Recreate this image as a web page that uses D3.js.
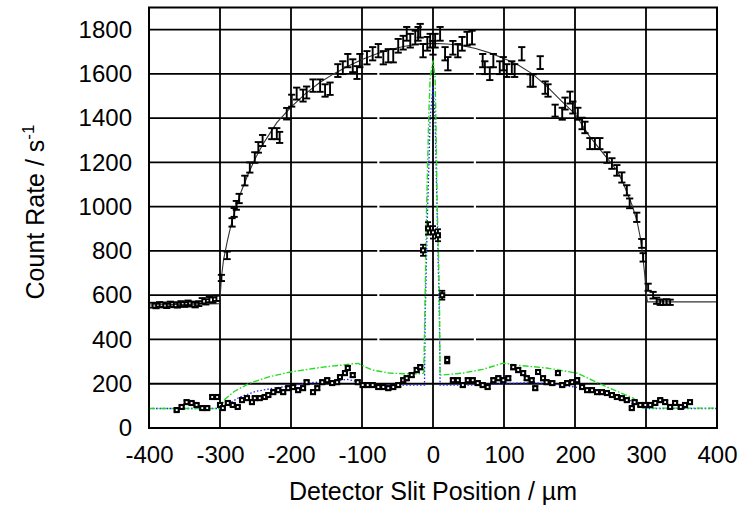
<!DOCTYPE html>
<html>
<head>
<meta charset="utf-8">
<script src="https://cdn.jsdelivr.net/npm/d3@7"></script>
<style>
  html, body { margin: 0; padding: 0; background: #fff; }
  svg text { font-family: "Liberation Sans", Arial, Helvetica, sans-serif; fill: #000; }
</style>
</head>
<body>
<svg id="chart" width="744" height="506"></svg>
<script>
// Detector slit scan: count rate vs. slit position

const xTicks = [-400, -300, -200, -100, 0, 100, 200, 300, 400];
const yTicks = [0, 200, 400, 600, 800, 1000, 1200, 1400, 1600, 1800];

// Direct beam scan (upper data, with error bars)
const upperX = [-395,-390,-385,-380,-375,-370,-365,-360,-355,-350,-345,-340,-335,-330,-325,-320,-315,-310,-305,
  -298,-290,-283,-280,-277,-273,-265,-258,-251,-246,-240,-227,-220,-216,-206,-199,-192,-183,-178,-169,-159,-152,-145,
  -134,-127,-120,-113,-107,-103,-93,-85,-77,-70,-63,-56,-49,-42,-37,-32,-25,-21,-18,-14,-8,-4,0,
  3,10,17,21,28,35,41,48,55,70,73,80,85,94,99,104,111,115,125,137,141,151,158,162,172,182,186,193,197,204,210,214,
  221,228,235,245,252,259,266,273,277,287,294,296,303,310,315,320,324,329,334];
const upperY = [555,552,558,556,553,560,557,555,562,558,565,560,556,562,575,570,580,578,586,
  678,780,929,974,1006,1037,1118,1177,1222,1268,1299,1330,1330,1313,1420,1479,1511,1502,1516,1547,1547,1525,1533,
  1615,1628,1660,1637,1606,1660,1673,1691,1705,1673,1682,1682,1727,1741,1781,1750,1764,1781,1795,1705,1736,1750,1718,
  1750,1781,1691,1646,1718,1705,1736,1759,1764,1660,1628,1601,1660,1628,1646,1615,1628,1615,1691,1570,1570,1651,1538,1525,1434,1420,1466,1493,1448,1420,1376,1358,
  1285,1285,1285,1222,1195,1164,1132,1074,1015,952,834,771,636,600,575,568,568,570,568];
const upperErr = [11,11,11,11,11,11,11,11,11,11,11,11,11,11,12,12,12,12,12,
  14,17,19,20,20,21,22,23,24,24,25,25,25,25,26,27,27,27,27,28,28,28,28,
  29,29,30,29,29,30,30,30,30,30,30,30,31,31,31,31,31,31,31,30,31,31,31,
  31,31,30,30,31,30,31,31,31,30,29,29,30,29,30,29,29,29,30,28,28,29,28,28,27,27,27,27,27,27,26,26,
  25,25,25,24,24,24,23,23,22,21,20,19,16,15,14,12,12,12,12];

// Fit to the direct beam scan
const upperFit = [[-400,556],[-301,562],[-300,580],[-298,680],[-295,760],[-290,840],[-285,910],[-280,970],[-270,1070],
  [-260,1150],[-250,1220],[-240,1280],[-230,1330],[-220,1380],[-200,1450],[-180,1510],[-160,1560],[-140,1600],[-120,1635],
  [-100,1665],[-80,1690],[-60,1710],[-40,1725],[-20,1735],[0,1738],[20,1735],[40,1728],[60,1715],[80,1695],[100,1670],
  [120,1640],[140,1600],[160,1545],[180,1480],[200,1420],[220,1320],[240,1240],[260,1160],[270,1090],[280,1010],
  [287,940],[292,860],[295,790],[298,700],[300,620],[302,570],[400,570]];

// Scan with the sample in place (lower data)
const lowerX = [-361,-354,-347,-340,-333,-325,-318,-311,-304,-300,-296,-289,-282,-275,-269,-262,-255,-251,-244,-237,
  -232,-225,-218,-211,-204,-197,-190,-183,-178,-169,-163,-156,-149,-142,-135,-131,-124,-120,-113,-106,-99,-92,-85,
  -77,-70,-63,-56,-49,-42,-37,-30,-23,-18,-14,-7,0,7,13,20,28,35,42,49,56,63,70,77,85,92,99,106,113,120,127,132,139,
  144,148,155,160,168,176,182,189,196,203,210,217,224,231,238,245,252,259,266,273,280,284,292,299,306,313,320,327,
  334,341,349,355,362];
const lowerY = [81,95,117,113,104,90,90,140,140,104,90,113,104,95,126,135,117,135,135,140,
  149,162,171,162,180,185,171,180,207,162,180,207,216,203,207,230,248,271,239,207,194,194,194,
  185,185,180,185,194,216,225,239,262,275,803,902,884,871,600,307,216,216,194,216,216,203,194,185,216,225,216,225,275,262,248,225,216,
  180,253,225,207,203,248,194,203,207,216,185,171,171,162,162,158,149,140,135,126,90,117,104,104,104,113,126,117,
  95,113,95,104,117];
const lowerErr = [6,6,7,7,6,6,6,7,7,6,6,7,6,6,7,7,7,7,7,7,
  7,8,8,8,8,8,8,8,8,8,8,8,9,8,8,9,9,10,9,8,8,8,8,
  8,8,8,8,8,9,9,9,10,10,25,28,28,27,20,15,9,9,8,9,9,8,8,8,9,9,9,9,10,10,9,9,9,
  8,9,9,8,8,9,8,8,8,9,8,8,8,8,8,8,7,7,7,7,6,7,6,6,6,7,7,7,
  6,7,6,6,7];

// Model curves for the sample scan
const greenFit = [[-400,88],[-300,88],[-293,130],[-280,165],[-258,203],[-230,232],[-201,253],[-155,275],[-113,290],
  [-105,292],[-95,275],[-85,262],[-61,248],[-37,245],[-18,245],[-13,248],[-11,610],[-9,997],[-6,1403],[-4,1583],
  [0,1660],[3,1583],[4,1403],[6,997],[9,610],[10,240],[12,239],[42,248],[70,265],[99,293],[118,284],[160,271],
  [203,248],[245,185],[282,135],[296,90],[400,90]];
const blueFit = [[-400,88],[-300,88],[-290,105],[-272,140],[-250,165],[-225,180],[-200,190],[-178,203],[-150,210],
  [-121,220],[-100,205],[-80,196],[-50,194],[-12,194],[-11,500],[-8,938],[-4,1400],[0,1545],[3,1400],[6,938],
  [9,500],[10,194],[60,194],[100,200],[140,205],[180,195],[220,175],[250,155],[277,126],[295,92],[300,88],[400,88]];

const svg = d3.select("#chart");
const plotL = 149, plotR = 717, plotT = 7.5, plotB = 428;

const x = d3.scaleLinear().domain([-400, 400]).range([plotL, plotR]);
const y = d3.scaleLinear().domain([0, 1900]).range([plotB, plotT]);

// Grid
const grid = svg.append("g").attr("stroke", "#000").attr("stroke-width", 1.8).attr("fill", "none");
xTicks.slice(1, -1).forEach(t => {
  grid.append("line").attr("x1", x(t)).attr("x2", x(t)).attr("y1", plotT).attr("y2", plotB);
});
const gapAt = [-77, 59]; // small breaks in the horizontal grid lines
yTicks.slice(1).forEach(t => {
  if (t >= 400 && t <= 1600) {
    const segs = [[-400, gapAt[0] - 1.5], [gapAt[0] + 1.5, gapAt[1] - 1.5], [gapAt[1] + 1.5, 400]];
    segs.forEach(s => grid.append("line").attr("x1", x(s[0])).attr("x2", x(s[1])).attr("y1", y(t)).attr("y2", y(t)));
  } else {
    grid.append("line").attr("x1", plotL).attr("x2", plotR).attr("y1", y(t)).attr("y2", y(t));
  }
});

// Axes with tick labels (plain hyphen for negatives)
const fmt = d => String(d);
const xAxis = svg.append("g").attr("transform", `translate(0,${plotB})`)
  .call(d3.axisBottom(x).tickValues(xTicks).tickSize(0).tickPadding(22).tickFormat(fmt));
const yAxis = svg.append("g").attr("transform", `translate(${plotL},0)`)
  .call(d3.axisLeft(y).tickValues(yTicks).tickSize(0).tickPadding(17).tickFormat(fmt));
[xAxis, yAxis].forEach(a => {
  a.select(".domain").remove();
  a.selectAll("text").attr("font-size", 24).attr("fill", "#000")
   .attr("font-family", "'Liberation Sans', Arial, sans-serif");
});
xAxis.selectAll("text").attr("dy", "0.71em").attr("y", 18);

// Lines
const line = d3.line().x(d => x(d[0])).y(d => y(d[1]));

svg.append("path").datum(blueFit).attr("d", line).attr("fill", "none")
  .attr("stroke", "#2020ff").attr("stroke-width", 1.3).attr("stroke-dasharray", "1.5,2");
svg.append("path").datum(greenFit).attr("d", line).attr("fill", "none")
  .attr("stroke", "#22dd22").attr("stroke-width", 1.4).attr("stroke-dasharray", "6,2,1.5,2");
svg.append("path").datum(upperFit).attr("d", line).attr("fill", "none")
  .attr("stroke", "#333").attr("stroke-width", 1.1);

// Error-bar points
function errorPoints(xs, ys, es, cap, marker, sw) {
  const g = svg.append("g").attr("stroke", "#000").attr("stroke-width", sw);
  xs.forEach((xv, i) => {
    const cx = x(xv), y0 = y(ys[i] - es[i]), y1 = y(ys[i] + es[i]);
    g.append("line").attr("x1", cx).attr("x2", cx).attr("y1", y0).attr("y2", y1);
    g.append("line").attr("x1", cx - cap).attr("x2", cx + cap).attr("y1", y0).attr("y2", y0);
    g.append("line").attr("x1", cx - cap).attr("x2", cx + cap).attr("y1", y1).attr("y2", y1);
    if (marker) {
      g.append("rect").attr("x", cx - marker / 2).attr("y", y(ys[i]) - marker / 2)
        .attr("width", marker).attr("height", marker).attr("fill", "#fff").attr("stroke-width", 2.1);
    }
  });
}
errorPoints(upperX, upperY, upperErr, 3.6, 0, 1.9);
errorPoints(lowerX, lowerY, lowerErr, 3, 4, 1.8);

// Frame
svg.append("rect").attr("x", plotL).attr("y", plotT).attr("width", plotR - plotL).attr("height", plotB - plotT)
  .attr("fill", "none").attr("stroke", "#000").attr("stroke-width", 2);

// Axis titles
svg.append("text").attr("x", (plotL + plotR) / 2).attr("y", 500).attr("text-anchor", "middle")
  .attr("font-size", 25).text("Detector Slit Position / \u00b5m");
const yl = svg.append("text").attr("transform", "translate(44,212) rotate(-90)").attr("text-anchor", "middle")
  .attr("font-size", 25);
yl.append("tspan").text("Count Rate / s");
yl.append("tspan").attr("font-size", 17).attr("dy", -10).text("-1");
</script>
</body>
</html>
